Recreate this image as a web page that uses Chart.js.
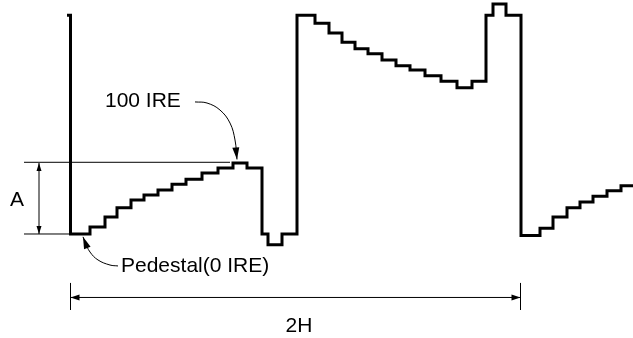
<!DOCTYPE html>
<html>
<head>
<meta charset="utf-8">
<script src="https://cdn.jsdelivr.net/npm/chart.js@4"></script>
<style>
  html, body { margin: 0; padding: 0; background: #fff; }
</style>
</head>
<body>
<canvas id="chart" width="633" height="338"></canvas>
<script>
// staircase waveform, each entry = where the level changes (time) and the new level (IRE)
const edgeX = [67, 70.5, 90, 105, 117, 131, 144, 158, 172, 186, 202, 218, 233, 247, 262, 268, 282,
  297, 315, 329, 342, 355, 368, 382, 396, 410, 425, 441, 457, 472, 486, 493, 506,
  521, 540, 553, 567, 580, 593, 607, 621, 640];
const levelIRE = [308, 0, 10, 24, 37, 48, 55, 62, 70, 77, 86, 93, 100, 93, 0, -15, 0,
  308, 297, 283, 270, 261, 254, 245, 237, 231, 223, 215, 206, 215, 308, 324, 308,
  -2, 8, 24, 37, 45, 53, 61, 68, 68];

// reference lines
const refX = [24, 230];
const ref100 = 101;
const pedX = [24, 70];
const pedLevel = 0;

// dimension "A" (pedestal -> 100 IRE)
const dimAX = 39;
const dimAY = [0, 100];

// dimension "2H"
const dim2HX = [70.5, 520.5];
const dim2HY = -89.4;
const tickY = [-69, -107];

// leader curves
const leader100X = [195, 207, 220, 230, 235, 237];
const leader100Y = [186, 184.5, 174.6, 156.3, 132.4, 105];
const leaderPedX = [118, 110, 98, 90, 85, 83];
const leaderPedY = [-45, -43.7, -36.6, -25.4, -11.3, -4];

// text
const labelText = ['A', '100 IRE', 'Pedestal(0 IRE)', '2H'];
const labelX = [10, 105, 121, 285.5];
const labelY = [48, 187, -45, -130];

const zip = (xs, ys) => xs.map((x, i) => ({ x: x, y: ys[i] }));

const line = (pts, width, extra) => Object.assign({
  data: pts,
  showLine: true,
  borderColor: '#000',
  borderWidth: width,
  pointRadius: 0,
  fill: false
}, extra || {});

const arrowPlugin = {
  id: 'arrows',
  afterDatasetsDraw(chart) {
    const ctx = chart.ctx;
    chart.data.datasets.forEach((ds, i) => {
      if (!ds.arrows) return;
      const pts = chart.getDatasetMeta(i).data;
      const n = pts.length;
      ctx.save();
      ctx.fillStyle = '#000';
      ds.arrows.forEach(end => {
        const tip = end === 'start' ? pts[0] : pts[n - 1];
        const from = end === 'start' ? pts[1] : pts[n - 2];
        const a = Math.atan2(tip.y - from.y, tip.x - from.x);
        const len = ds.arrowLen, hw = ds.arrowHalf;
        const bx = tip.x - len * Math.cos(a), by = tip.y - len * Math.sin(a);
        ctx.beginPath();
        ctx.moveTo(tip.x, tip.y);
        ctx.lineTo(bx + hw * Math.sin(a), by - hw * Math.cos(a));
        ctx.lineTo(bx - hw * Math.sin(a), by + hw * Math.cos(a));
        ctx.closePath();
        ctx.fill();
      });
      ctx.restore();
    });
  }
};

const labelPlugin = {
  id: 'labels',
  afterDatasetsDraw(chart) {
    const ctx = chart.ctx;
    const xs = chart.scales.x, ys = chart.scales.y;
    ctx.save();
    ctx.font = '21px "Liberation Sans", Arial, sans-serif';
    ctx.fillStyle = '#000';
    ctx.textAlign = 'left';
    ctx.textBaseline = 'middle';
    labelText.forEach((t, i) => {
      ctx.fillText(t, xs.getPixelForValue(labelX[i]), ys.getPixelForValue(labelY[i]));
    });
    ctx.restore();
  }
};

new Chart(document.getElementById('chart'), {
  type: 'scatter',
  data: {
    datasets: [
      line(zip(edgeX, levelIRE), 3, { stepped: 'before', borderJoinStyle: 'miter', borderCapStyle: 'butt' }),
      line(zip(refX, [ref100, ref100]), 1),
      line(zip(pedX, [pedLevel, pedLevel]), 1),
      line(zip([dimAX, dimAX], dimAY), 1, { arrows: ['start', 'end'], arrowLen: 8, arrowHalf: 2.5 }),
      line(zip(dim2HX, [dim2HY, dim2HY]), 1, { arrows: ['start', 'end'], arrowLen: 9, arrowHalf: 3 }),
      line(zip([dim2HX[0], dim2HX[0]], tickY), 1),
      line(zip([dim2HX[1], dim2HX[1]], tickY), 1),
      line(zip(leader100X, leader100Y), 1, { tension: 0.4, arrows: ['end'], arrowLen: 12, arrowHalf: 3.5 }),
      line(zip(leaderPedX, leaderPedY), 1, { tension: 0.4, arrows: ['end'], arrowLen: 12, arrowHalf: 3.5 })
    ]
  },
  options: {
    responsive: false,
    animation: false,
    devicePixelRatio: 1,
    events: [],
    layout: { padding: 0 },
    plugins: { legend: { display: false }, tooltip: { enabled: false } },
    scales: {
      x: { type: 'linear', min: 0, max: 633, display: false },
      y: { type: 'linear', min: -146.5, max: 329.6, display: false }
    }
  },
  plugins: [arrowPlugin, labelPlugin]
});
</script>
</body>
</html>
